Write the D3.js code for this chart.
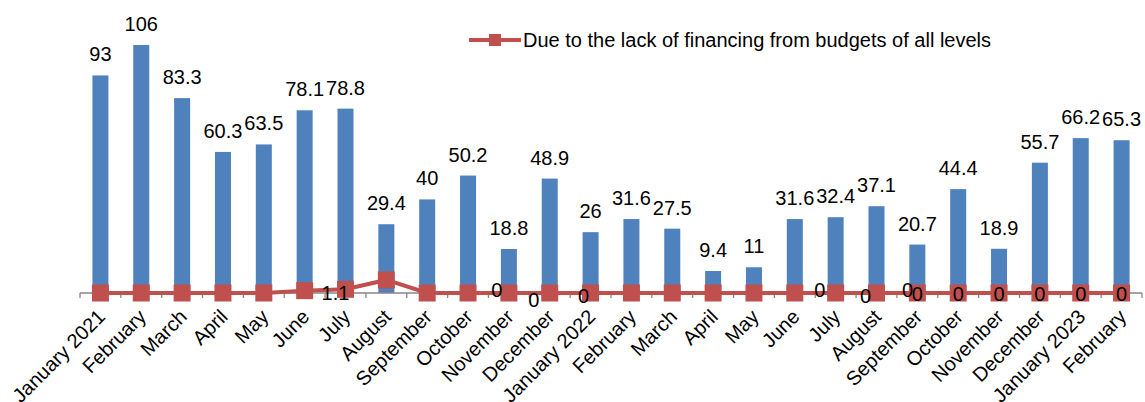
<!DOCTYPE html>
<html>
<head>
<meta charset="utf-8">
<script src="https://cdn.jsdelivr.net/npm/d3@7"></script>
<style>
  html, body { margin: 0; padding: 0; background: #ffffff; }
  svg { display: block; font-family: "Liberation Sans", Arial, sans-serif; }
</style>
</head>
<body>
<svg id="chart" width="1145" height="402"></svg>
<script>
// ---- data ----
const categories = ["January 2021","February","March","April","May","June","July","August",
  "September","October","November","December","January 2022","February","March","April",
  "May","June","July","August","September","October","November","December","January 2023","February"];
const barValues = [93,106,83.3,60.3,63.5,78.1,78.8,29.4,40,50.2,18.8,48.9,26,31.6,27.5,9.4,11,
  31.6,32.4,37.1,20.7,44.4,18.9,55.7,66.2,65.3];
const lineValues = [0,0,0,0,0,0.7,1.1,3.9,0,0,0,0,0,0,0,0,0,0,0,0,0,0,0,0,0,0];
const lineName = "Due to the lack of financing from budgets of all levels";
// which line-value labels are shown, and where (placement codes)
const lineLabelPlacement = [null,null,null,null,null,null,"bl",null,null,null,"al","bl2","bl3",
  null,null,null,null,"ar","br","ar2","c","c","c","c","c","c"];

// ---- layout ----
const svg = d3.select("#chart");
const x = d3.scaleBand().domain(d3.range(categories.length)).range([80, 1142]).padding(0);
const y = d3.scaleLinear().domain([0, 106]).range([293, 45]);
const y2 = d3.scaleLinear().domain([0, 74]).range([293, 45]);
const barW = 16;
const fs = 20;
const barColor = "#4F81BD", lineColor = "#C0504D", axisColor = "#868686";

// bars
svg.append("g").selectAll("rect").data(barValues).join("rect")
  .attr("x", (d, i) => x(i) + x.bandwidth() / 2 - barW / 2)
  .attr("y", d => y(d))
  .attr("width", barW)
  .attr("height", d => y(0) - y(d))
  .attr("fill", barColor);

// x axis
const axis = d3.axisBottom(x).tickSize(0).tickFormat("");
const gAxis = svg.append("g").attr("transform", `translate(0,${y(0)})`).call(axis);
gAxis.select(".domain").attr("stroke", axisColor).attr("stroke-width", 1.3).attr("d", `M80,0H1142`);
const bounds = d3.range(categories.length + 1).map(i => 80 + i * x.bandwidth());
gAxis.selectAll(".bt").data(bounds).join("line").attr("class", "bt")
  .attr("x1", d => d).attr("x2", d => d).attr("y1", 0).attr("y2", 5)
  .attr("stroke", axisColor).attr("stroke-width", 1.3);

// category labels
svg.append("g").selectAll("text").data(categories).join("text")
  .attr("transform", (d, i) => `translate(${x(i) + x.bandwidth() / 2 + 6},${318}) rotate(-45)`)
  .attr("text-anchor", "end")
  .attr("font-size", fs)
  .attr("fill", "#000")
  .text(d => d);

// bar labels
svg.append("g").selectAll("text").data(barValues).join("text")
  .attr("x", (d, i) => x(i) + x.bandwidth() / 2)
  .attr("y", d => y(d) - 14)
  .attr("text-anchor", "middle")
  .attr("font-size", fs)
  .attr("fill", "#000")
  .text(d => d);

// line
const cx = i => x(i) + x.bandwidth() / 2;
const line = d3.line().x((d, i) => cx(i)).y(d => y2(d));
svg.append("path").datum(lineValues).attr("d", line)
  .attr("fill", "none").attr("stroke", lineColor).attr("stroke-width", 4);
const ms = 17;
svg.append("g").selectAll("rect").data(lineValues).join("rect")
  .attr("x", (d, i) => cx(i) - ms / 2)
  .attr("y", d => y2(d) - ms / 2)
  .attr("width", ms).attr("height", ms)
  .attr("fill", lineColor);

// line labels
const offsets = { bl: [-10, 4], al: [-12, -3], bl2: [-16, 7], bl3: [-7, 3], ar: [25, -3],
  br: [30, 3], ar2: [31, -3], c: [0, 1] };
svg.append("g").selectAll("text")
  .data(lineValues.map((v, i) => ({ v, i, p: lineLabelPlacement[i] })).filter(d => d.p))
  .join("text")
  .attr("x", d => cx(d.i) + offsets[d.p][0])
  .attr("y", d => y2(d.v) + offsets[d.p][1])
  .attr("dy", "0.35em")
  .attr("text-anchor", "middle")
  .attr("font-size", fs)
  .attr("fill", "#000")
  .text(d => d.v);

// legend
const lg = svg.append("g").attr("transform", "translate(469,40)");
lg.append("line").attr("x1", 0).attr("x2", 52).attr("y1", 0).attr("y2", 0)
  .attr("stroke", lineColor).attr("stroke-width", 4);
lg.append("rect").attr("x", 20).attr("y", -6).attr("width", 12).attr("height", 12).attr("fill", lineColor);
lg.append("text").attr("x", 54).attr("y", 0).attr("dy", "0.35em")
  .attr("font-size", fs).attr("fill", "#000").text(lineName);
</script>
</body>
</html>
